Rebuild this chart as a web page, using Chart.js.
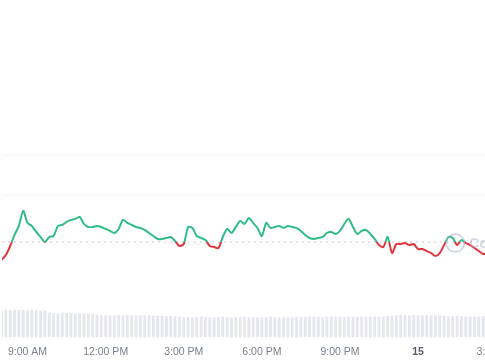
<!DOCTYPE html>
<html>
<head>
<meta charset="utf-8">
<script src="https://cdn.jsdelivr.net/npm/chart.js@4"></script>
<style>
  html, body { margin: 0; padding: 0; background: #fff; overflow: hidden; }
  #wrap { position: absolute; left: 0; top: 0; width: 530px; height: 366px; }
</style>
</head>
<body>
<div id="wrap"><canvas id="priceChart" width="530" height="366"></canvas></div>
<script>
/* ===============================
   DATA (10 minute candles, hours since midnight of the 14th)
================================ */
const START_HOUR = 8;
const STEP_HOURS = 1 / 6;

const prices = [
  2.44, 2.4525, 2.475, 2.5025, 2.525, 2.5625, 2.5325, 2.525, 2.51, 2.4975,
  2.485, 2.4975, 2.50, 2.525, 2.5275, 2.535, 2.54, 2.5425, 2.5475, 2.53,
  2.5225, 2.5225, 2.525, 2.5225, 2.5175, 2.5125, 2.5075, 2.5175, 2.54, 2.5325,
  2.5275, 2.5225, 2.52, 2.515, 2.5075, 2.50, 2.4925, 2.4925, 2.495, 2.4975,
  2.4875, 2.475, 2.48, 2.5225, 2.52, 2.50, 2.495, 2.49, 2.475, 2.4725,
  2.47, 2.4975, 2.5175, 2.5075, 2.5225, 2.5375, 2.53, 2.545, 2.5325, 2.52,
  2.50, 2.5325, 2.52, 2.5225, 2.525, 2.52, 2.525, 2.5225, 2.52, 2.5125,
  2.5025, 2.495, 2.4925, 2.495, 2.4975, 2.5075, 2.51, 2.505, 2.5125, 2.53,
  2.5425, 2.5225, 2.505, 2.5125, 2.515, 2.505, 2.4925, 2.4775, 2.4725, 2.4975,
  2.4575, 2.48, 2.48, 2.4825, 2.4775, 2.48, 2.4675, 2.4675, 2.4625, 2.4575,
  2.45, 2.4575, 2.4775, 2.4975, 2.495, 2.4775, 2.49, 2.4825, 2.4775, 2.47,
  2.4625, 2.455, 2.4575
];

const volumes = [
  8.0, 8.2, 8.1, 8.3, 8.2, 8.1, 8.0, 8.2, 8.1, 7.9, 8.0,
  7.3, 7.2, 7.1, 7.3, 7.2, 7.2, 7.1, 7.2, 7.0, 7.1, 7.0,
  6.7, 6.6, 6.6, 6.5, 6.6, 6.7, 6.5, 6.6, 6.5, 6.4, 6.5, 6.5, 6.6, 6.4, 6.5, 6.4, 6.3, 6.4, 6.3,
  6.1, 6.0, 6.0, 5.9, 6.0, 6.1, 6.0, 5.9, 6.0, 6.0,
  6.1, 6.0, 5.9, 6.0, 6.0, 6.1, 6.0, 6.0, 5.9, 6.0,
  6.0, 6.1, 6.0, 6.0, 5.9, 6.0, 6.0, 6.1, 6.0, 6.0,
  6.1, 6.2, 6.1, 6.0, 6.1, 6.2, 6.1, 6.1, 6.0, 6.1,
  6.2, 6.1, 6.2, 6.1, 6.2, 6.3, 6.2, 6.3, 6.4, 6.4,
  6.6, 6.7, 6.6, 6.6, 6.7, 6.6, 6.5, 6.6, 6.6, 6.5, 6.5, 6.4,
  6.3, 6.3, 6.4, 6.3, 6.2, 6.3, 6.3, 6.2, 6.3, 6.3
];

const openPrice = 2.485;            // dotted reference line
const xTicks = [9, 12, 15, 18, 21, 24, 27];
const yGrid = [2.60, 2.70];

const GREEN = "#2fbd85";
const RED = "#e3353f";

const times = prices.map((_, i) => START_HOUR + i * STEP_HOURS);
const pricePts = prices.map((p, i) => ({ x: times[i], y: p }));
const volPts = volumes.map((v, i) => ({ x: times[i], y: v }));

function fmtHour(v) {
  if (v === 24) return "15";
  const h = v % 24;
  const ampm = h < 12 ? "AM" : "PM";
  const h12 = h % 12 === 0 ? 12 : h % 12;
  return h12 + ":00 " + ampm;
}

// green above the open price, red below
function splitColor(ctx) {
  const chart = ctx.chart;
  const area = chart.chartArea;
  if (!area) return GREEN;
  const yPx = chart.scales.y.getPixelForValue(openPrice);
  const f = Math.min(1, Math.max(0, (yPx - area.top) / (area.bottom - area.top)));
  const g = chart.ctx.createLinearGradient(0, area.top, 0, area.bottom);
  g.addColorStop(0, GREEN);
  g.addColorStop(f, GREEN);
  g.addColorStop(f, RED);
  g.addColorStop(1, RED);
  return g;
}

/* ===============================
   WATERMARK
================================ */
const watermark = {
  id: "watermark",
  afterDatasetsDraw(chart) {
    const c = chart.ctx;
    const x = chart.scales.x.getPixelForValue(25.43);
    const y = chart.scales.y.getPixelForValue(2.4825);
    c.save();
    c.strokeStyle = "rgba(170,178,200,0.5)";
    c.lineWidth = 2;
    c.beginPath();
    c.arc(x, y, 9, 0, Math.PI * 2);
    c.stroke();
    c.font = "bold 14px 'Liberation Sans', sans-serif";
    c.fillStyle = "rgba(170,178,200,0.5)";
    c.textBaseline = "middle";
    c.fillText("CoinGecko", x + 14, y + 1);
    c.restore();
  },
};

/* ===============================
   CHART
================================ */
new Chart(document.getElementById("priceChart"), {
  data: {
    datasets: [
      {
        type: "line",
        data: pricePts,
        borderColor: splitColor,
        borderWidth: 2,
        pointRadius: 0,
        tension: 0.25,
        yAxisID: "y",
        order: 0,
      },
      {
        type: "line",
        data: [{ x: 8.02, y: openPrice }, { x: 28.3, y: openPrice }],
        borderColor: "#c9c9c9",
        borderWidth: 1,
        borderDash: [2, 4],
        pointRadius: 0,
        yAxisID: "y",
        order: 1,
      },
      {
        type: "bar",
        data: volPts,
        backgroundColor: "#e5e7ec",
        barPercentage: 0.65,
        categoryPercentage: 1,
        yAxisID: "yv",
        order: 2,
      },
    ],
  },
  options: {
    responsive: false,
    animation: false,
    layout: { padding: 0 },
    plugins: {
      legend: { display: false },
      tooltip: { enabled: false },
    },
    scales: {
      x: {
        type: "linear",
        min: 8.02,
        max: 28.3,
        offset: false,
        afterBuildTicks: (axis) => {
          axis.ticks = xTicks.map((v) => ({ value: v }));
        },
        grid: { display: false, drawTicks: false },
        border: { display: false },
        ticks: {
          autoSkip: false,
          maxRotation: 0,
          padding: 8,
          color: (ctx) => (ctx.tick && ctx.tick.value === 24 ? "#555b66" : "#7b808a"),
          font: (ctx) => ({
            family: "'Liberation Sans', Arial, sans-serif",
            size: 10.5,
            weight: ctx.tick && ctx.tick.value === 24 ? "bold" : "normal",
          }),
          callback: (v) => fmtHour(v),
        },
      },
      y: {
        display: true,
        min: 2.2475,
        max: 3.0875,
        afterBuildTicks: (axis) => {
          axis.ticks = yGrid.map((v) => ({ value: v }));
        },
        grid: { color: "#f3f3f5", drawTicks: false },
        border: { display: false },
        ticks: { display: false },
      },
      yv: {
        display: false,
        min: 0,
        max: 100,
      },
    },
  },
  plugins: [watermark],
});
</script>
</body>
</html>
